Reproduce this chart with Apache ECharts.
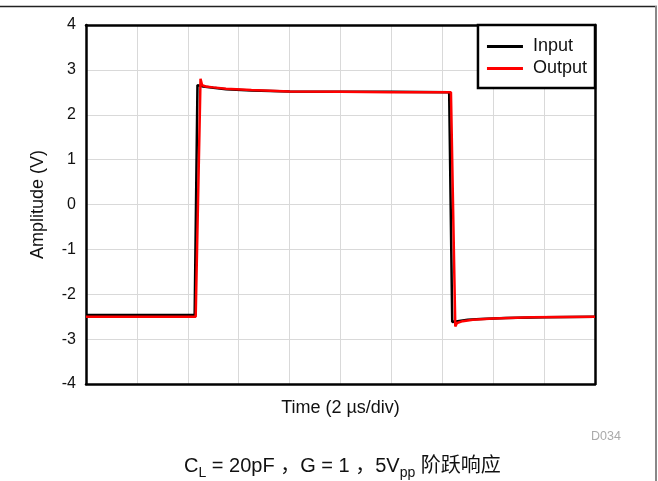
<!DOCTYPE html>
<html>
<head>
<meta charset="utf-8">
<script src="https://cdn.jsdelivr.net/npm/echarts@6/dist/echarts.min.js"></script>
<style>
html,body{margin:0;padding:0;background:#fff;}
#chart{width:658px;height:481px;}
</style>
</head>
<body>
<div id="chart"></div>
<script>
// Time in µs (2 µs/div, 10 divisions), amplitude in V
var inputTime = [0, 2, 4.27, 4.38, 4.6, 5.0, 5.5, 6.5, 8, 10, 12, 14.27, 14.39, 14.6, 15.0, 15.5, 16.5, 18, 20];
var inputVolt = [-2.46, -2.46, -2.46, 2.66, 2.63, 2.60, 2.57, 2.54, 2.52, 2.51, 2.51, 2.50, -2.62, -2.60, -2.57, -2.55, -2.53, -2.51, -2.50];
var outputTime = [0, 2, 4.31, 4.50, 4.56, 4.7, 5.0, 5.5, 6.5, 8, 10, 12, 14.34, 14.51, 14.58, 14.8, 15.2, 16, 17.5, 20];
var outputVolt = [-2.50, -2.50, -2.50, 2.80, 2.66, 2.63, 2.61, 2.58, 2.55, 2.52, 2.51, 2.50, 2.50, -2.72, -2.64, -2.60, -2.57, -2.54, -2.51, -2.50];
var yTicks = [-4, -3, -2, -1, 0, 1, 2, 3, 4];
var seriesNames = ['Input', 'Output'];

function pairs(t, v) { return t.map(function (x, i) { return [x, v[i]]; }); }

var font = '"Liberation Sans", Arial, sans-serif';
var frame = {show: true, onZero: false, lineStyle: {color: '#000', width: 2.5}};
var grey = {show: true, lineStyle: {color: '#d9d9d9', width: 1}};
var chart = echarts.init(document.getElementById('chart'), null, {renderer: 'canvas'});
chart.setOption({
  backgroundColor: '#ffffff',
  animation: false,
  textStyle: {fontFamily: font},
  grid: {left: 86, right: 63, top: 25, bottom: 97},
  xAxis: [{
    type: 'value', min: 0, max: 20, interval: 2, position: 'bottom',
    name: 'Time (2 µs/div)', nameLocation: 'middle', nameGap: 15,
    nameTextStyle: {fontSize: 18, color: '#111', fontFamily: font},
    axisLine: frame, axisTick: {show: false}, axisLabel: {show: false},
    splitLine: grey
  }, {
    type: 'value', min: 0, max: 20, interval: 2, position: 'top',
    axisLine: frame, axisTick: {show: false}, axisLabel: {show: false}, splitLine: {show: false}
  }],
  yAxis: [{
    type: 'value', min: yTicks[0], max: yTicks[yTicks.length - 1], interval: 1, position: 'left',
    name: 'Amplitude (V)', nameLocation: 'middle', nameGap: 39,
    nameTextStyle: {fontSize: 18, color: '#111', fontFamily: font},
    axisLine: frame, axisTick: {show: false},
    axisLabel: {fontSize: 16, color: '#111', margin: 10, fontFamily: font},
    splitLine: grey
  }, {
    type: 'value', min: yTicks[0], max: yTicks[yTicks.length - 1], interval: 1, position: 'right',
    axisLine: frame, axisTick: {show: false}, axisLabel: {show: false}, splitLine: {show: false}
  }],
  legend: {
    orient: 'vertical', right: 63, top: 25,
    backgroundColor: '#fff', borderColor: '#000', borderWidth: 2.5, borderRadius: 0,
    padding: [12, 8, 10, 9], itemGap: 3, itemWidth: 36, itemHeight: 3,
    icon: 'rect',
    textStyle: {fontSize: 18, color: '#111', lineHeight: 19, fontFamily: font, padding: [0, 0, 0, 5]},
    data: seriesNames
  },
  series: [
    {name: seriesNames[0], type: 'line', data: pairs(inputTime, inputVolt), symbol: 'none',
     lineStyle: {color: '#000', width: 2.5}, itemStyle: {color: '#000'}, z: 2},
    {name: seriesNames[1], type: 'line', data: pairs(outputTime, outputVolt), symbol: 'none',
     lineStyle: {color: '#ff0000', width: 2.5}, itemStyle: {color: '#ff0000'}, z: 3}
  ],
  graphic: [
    {type: 'line', shape: {x1: 0, y1: 6.5, x2: 657, y2: 6.5}, style: {stroke: '#222', lineWidth: 1.5}, silent: true},
    {type: 'line', shape: {x1: 656, y1: 6, x2: 656, y2: 481}, style: {stroke: '#888', lineWidth: 2}, silent: true},
    {type: 'text', left: 591, top: 430, style: {text: 'D034', fill: '#aaa', font: '12.5px ' + font}, silent: true},
    {type: 'text', left: 184, top: 456, style: {
      text: '{n|C}{s|L}{n| = 20pF ，G = 1 ，5V}{s|pp}{n| 阶跃响应}',
      fill: '#111',
      rich: {
        n: {fontSize: 20, fontFamily: '"Liberation Sans", Arial, "Noto Sans CJK SC", sans-serif', fill: '#111', verticalAlign: 'bottom', lineHeight: 24},
        s: {fontSize: 14, fontFamily: '"Liberation Sans", Arial, sans-serif', fill: '#111', verticalAlign: 'bottom', lineHeight: 18, padding: [0, 0, -4, 0]}
      }
    }, silent: true}
  ]
});
</script>
</body>
</html>
